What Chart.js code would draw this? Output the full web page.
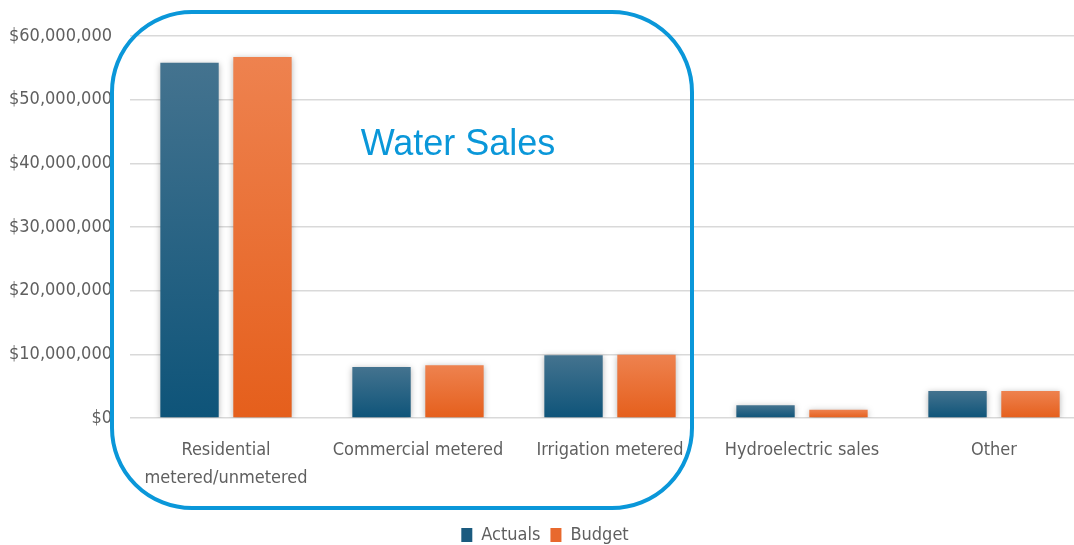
<!DOCTYPE html>
<html>
<head>
<meta charset="utf-8">
<title>Water Sales – Actuals vs Budget</title>
<script src="https://cdn.jsdelivr.net/npm/chart.js@4.4.1/dist/chart.umd.min.js"></script>
<style>
  html, body { margin: 0; padding: 0; background: #fff; }
  #wrap { width: 1074px; height: 545px; overflow: hidden; position: relative; }
  canvas { display: block; }
</style>
</head>
<body>
<div id="wrap"><canvas id="revenue" width="1090" height="545"></canvas></div>
<script>
const categories = [
  ['Residential', 'metered/unmetered'],
  'Commercial metered',
  'Irrigation metered',
  'Hydroelectric sales',
  'Other'
];
const actuals = [55800000, 8000000, 9850000, 2000000, 4250000];
const budget  = [56700000, 8300000, 9950000, 1300000, 4250000];
const yTicks  = [0, 10000000, 20000000, 30000000, 40000000, 50000000, 60000000];

const labelFont = "'Liberation Sans Narrow', 'DejaVu Sans Condensed', 'Roboto', sans-serif";
const gray = '#5f5f5f';

// vertical gradient per bar, lighter at the top
function barGradient(top, bottom) {
  return (ctx) => {
    const chart = ctx.chart;
    const y = chart.scales.y;
    if (!y || ctx.raw == null) return bottom;
    const y0 = y.getPixelForValue(ctx.raw);
    const y1 = y.getPixelForValue(0);
    if (!isFinite(y0) || y1 - y0 < 1) return bottom;
    const g = chart.ctx.createLinearGradient(0, y0, 0, y1);
    g.addColorStop(0, top);
    g.addColorStop(1, bottom);
    return g;
  };
}

// soft shadow round the bars
const barShadow = {
  id: 'barShadow',
  beforeDatasetsDraw(chart) {
    const c = chart.ctx;
    c.save();
    c.shadowColor = 'rgba(0,0,0,0.28)';
    c.shadowBlur = 6;
    c.shadowOffsetY = 1;
  },
  afterDatasetsDraw(chart) {
    chart.ctx.restore();
  }
};

// rounded frame + caption over the water sales groups
const waterFrame = {
  id: 'waterFrame',
  afterDraw(chart, args, opts) {
    const c = chart.ctx;
    const { left, top, right, bottom, radius } = opts.box;
    c.save();
    c.strokeStyle = opts.color;
    c.lineWidth = 4;
    c.beginPath();
    c.roundRect(left, top, right - left, bottom - top, radius);
    c.stroke();
    c.fillStyle = opts.color;
    c.font = "36px 'Liberation Sans', Arial, sans-serif";
    c.textAlign = 'center';
    c.textBaseline = 'alphabetic';
    c.fillText(opts.text, opts.textX, opts.textY);
    c.restore();
  }
};

new Chart(document.getElementById('revenue'), {
  type: 'bar',
  data: {
    labels: categories,
    datasets: [
      {
        label: 'Actuals',
        data: actuals,
        backgroundColor: barGradient('#44738f', '#0e5479'),
        categoryPercentage: 0.76,
        barPercentage: 0.8
      },
      {
        label: 'Budget',
        data: budget,
        backgroundColor: barGradient('#ee824f', '#e55f1c'),
        categoryPercentage: 0.76,
        barPercentage: 0.8
      }
    ]
  },
  options: {
    responsive: false,
    animation: false,
    layout: { padding: { top: 36, left: 0, right: 0, bottom: -9 } },
    scales: {
      x: {
        grid: { display: false },
        border: { display: false },
        ticks: {
          color: gray,
          font: { family: labelFont, size: 18, lineHeight: 1.55 },
          padding: 10,
          maxRotation: 0,
          autoSkip: false
        },
        afterFit(s) { s.height = 98; }
      },
      y: {
        min: 0,
        max: 60000000,
        afterBuildTicks(s) { s.ticks = yTicks.map(v => ({ value: v })); },
        grid: { color: '#d9d9d9', lineWidth: 1.5, drawTicks: false },
        border: { display: false },
        ticks: {
          color: gray,
          font: { family: labelFont, size: 18 },
          padding: 18,
          callback: v => '$' + Number(v).toLocaleString('en-US')
        },
        afterFit(s) { s.width = 130; }
      }
    },
    plugins: {
      legend: {
        position: 'bottom',
        labels: {
          color: gray,
          font: { family: labelFont, size: 18 },
          boxWidth: 11,
          boxHeight: 14,
          padding: 10,
          generateLabels(chart) {
            const fills = ['#1b5b7f', '#e8692d'];
            return chart.data.datasets.map((ds, i) => ({
              text: ds.label,
              fillStyle: fills[i],
              strokeStyle: fills[i],
              lineWidth: 0,
              fontColor: gray,
              datasetIndex: i,
              hidden: false
            }));
          }
        }
      },
      tooltip: { enabled: false },
      waterFrame: {
        box: { left: 112, top: 12, right: 692, bottom: 508, radius: 80 },
        color: '#0a97d9',
        text: 'Water Sales',
        textX: 458,
        textY: 155
      }
    }
  },
  plugins: [barShadow, waterFrame]
});
</script>
</body>
</html>
